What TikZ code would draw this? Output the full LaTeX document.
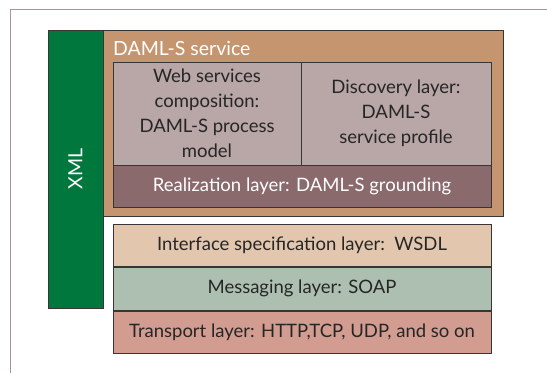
\documentclass[tikz,border=0pt]{standalone}
\usepackage{fontspec}
\setmainfont{Lato}
\usepackage{tikz}
\usetikzlibrary{positioning}
\definecolor{xmlgreen}{HTML}{00773C}
\definecolor{servtan}{HTML}{C4956F}
\definecolor{mauve}{HTML}{B9A6A6}
\definecolor{realiz}{HTML}{8B6A6D}
\definecolor{ifacecol}{HTML}{E2C7AE}
\definecolor{msgcol}{HTML}{ADBFB1}
\definecolor{transcol}{HTML}{D39C91}
\definecolor{framecol}{HTML}{A89598}
\definecolor{edgecol}{HTML}{3A3535}

\begin{document}
\begin{tikzpicture}[x=1pt,y=-1pt,
  layer/.style={draw=edgecol,line width=1pt,inner sep=0pt,align=center,
    text=black!85,font=\fontsize{18.5}{25}\selectfont},
  lightlbl/.style={text=white,inner sep=0pt,font=\fontsize{19.5}{20}\selectfont}]
  \useasboundingbox (0,0) rectangle (547,373);
  \draw[framecol,line width=1pt] (10,373) -- (10,9) -- (547,9);
  % left bar and service block
  \node[layer,fill=xmlgreen,minimum width=55pt,minimum height=278pt] (xml) at (75.5,169) {};
  \node[lightlbl,rotate=90] (xmltxt) at (xml.center) {XML};
  \node[layer,fill=servtan,minimum width=400pt,minimum height=186pt] (serv) at (303,123) {};
  \node[lightlbl,anchor=base west] (servtxt) at (113,55) {DAML-S service};
  \node[layer,fill=mauve,minimum width=188pt,minimum height=103pt] (comp) at (207,113.5)
    {Web services\\composition:\\DAML-S process\\model};
  \node[layer,fill=mauve,minimum width=190pt,minimum height=103pt] (disc) at (396,113.5)
    {Discovery layer:\\DAML-S\\service profile};
  \node[layer,fill=realiz,text=white,minimum width=378pt,minimum height=42pt] (real) at (302,186)
    {Realization layer: DAML-S grounding};
  % protocol stack
  \node[layer,fill=ifacecol,minimum width=378pt,minimum height=42pt] (iface) at (302,245)
    {Interface specification layer:\ \ WSDL};
  \node[layer,fill=msgcol,minimum width=378pt,minimum height=43pt,below=0pt of iface] (msg)
    {Messaging layer: SOAP};
  \node[layer,fill=transcol,minimum width=378pt,minimum height=42pt,below=0pt of msg] (trans)
    {Transport layer: HTTP,TCP, UDP, and so on};
\end{tikzpicture}
\end{document}
